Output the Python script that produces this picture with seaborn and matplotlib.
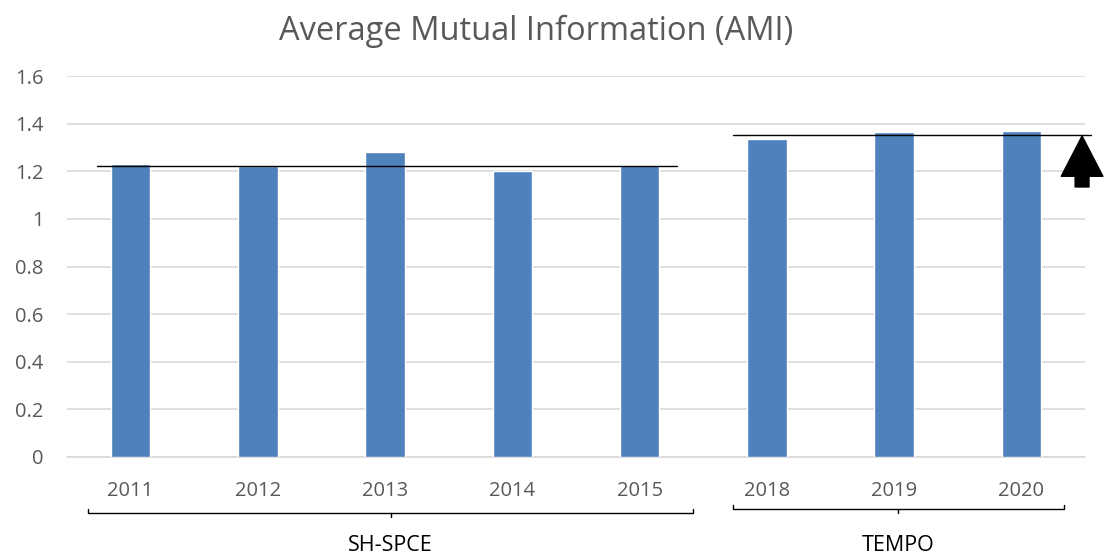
import matplotlib.pyplot as plt
import pandas as pd
import seaborn as sns
from matplotlib.ticker import FuncFormatter

years = ["2011", "2012", "2013", "2014", "2015", "2018", "2019", "2020"]
ami = [1.229, 1.224, 1.282, 1.201, 1.228, 1.335, 1.364, 1.368]
groups = ["SH-SPCE", "TEMPO"]
group_sizes = [5, 3]
group_means = [1.222, 1.352]

df = pd.DataFrame({"year": years, "ami": ami})

sns.set_style("white")
plt.rcParams["font.family"] = ["Open Sans", "DejaVu Sans"]

fig = plt.figure(figsize=(11.04, 5.57), dpi=100)
ax = fig.add_axes([67 / 1104, 1 - 457 / 557, (1085 - 67) / 1104, (457 - 76) / 557])

sns.barplot(data=df, x="year", y="ami", color="#4F81BD", width=0.31,
            saturation=1, ax=ax, zorder=3)

ax.set_ylim(0, 1.6)
ax.set_yticks([0, 0.2, 0.4, 0.6, 0.8, 1.0, 1.2, 1.4, 1.6])
ax.yaxis.set_major_formatter(FuncFormatter(lambda v, p: f"{v:g}"))
ax.grid(axis="y", color="#D9D9D9", linewidth=1.2, zorder=0)
ax.set_axisbelow(True)
for s in ["top", "right", "left"]:
    ax.spines[s].set_visible(False)
ax.spines["bottom"].set_color("#D9D9D9")
ax.spines["bottom"].set_linewidth(1.2)
ax.tick_params(axis="both", length=0, labelsize=14.5, colors="#595959")
ax.tick_params(axis="x", pad=17.5)
ax.tick_params(axis="y", pad=17)
ax.set_xlabel("")
ax.set_ylabel("")
ax.set_xlim(-0.5, len(years) - 0.5)
ax.set_title("Average Mutual Information (AMI)", fontsize=23.5, color="#595959",
             x=0.4607, pad=26)

# group average lines
line_spans = [(-0.265, 4.29), (4.73, 7.55)]
for (x0, x1), m in zip(line_spans, group_means):
    ax.plot([x0, x1], [m, m], color="black", linewidth=1, zorder=4, clip_on=False)

# upward arrow on the right
ax.annotate("", xy=(7.477, 1.348), xytext=(7.477, 1.134),
            arrowprops=dict(arrowstyle="simple,head_length=2.9,head_width=3.0,tail_width=1.0",
                            color="black", shrinkA=0, shrinkB=0),
            annotation_clip=False)

# group brackets below the axis
trans = ax.get_xaxis_transform()
bracket_spans = [(-0.335, 4.42), (4.73, 7.335)]
bracket_y = [-0.147, -0.137]
for (x0, x1), name, yb in zip(bracket_spans, groups, bracket_y):
    ax.plot([x0, x0, x1, x1], [yb + 0.01, yb, yb, yb + 0.01], color="black",
            linewidth=1, transform=trans, clip_on=False)
    xc = (x0 + x1) / 2
    ax.plot([xc, xc], [yb, yb - 0.01], color="black", linewidth=1,
            transform=trans, clip_on=False)
    ax.text(xc, -0.232, name, transform=trans, ha="center", va="center",
            fontsize=15.5, color="black")

fig.savefig("out.png", dpi=100)
